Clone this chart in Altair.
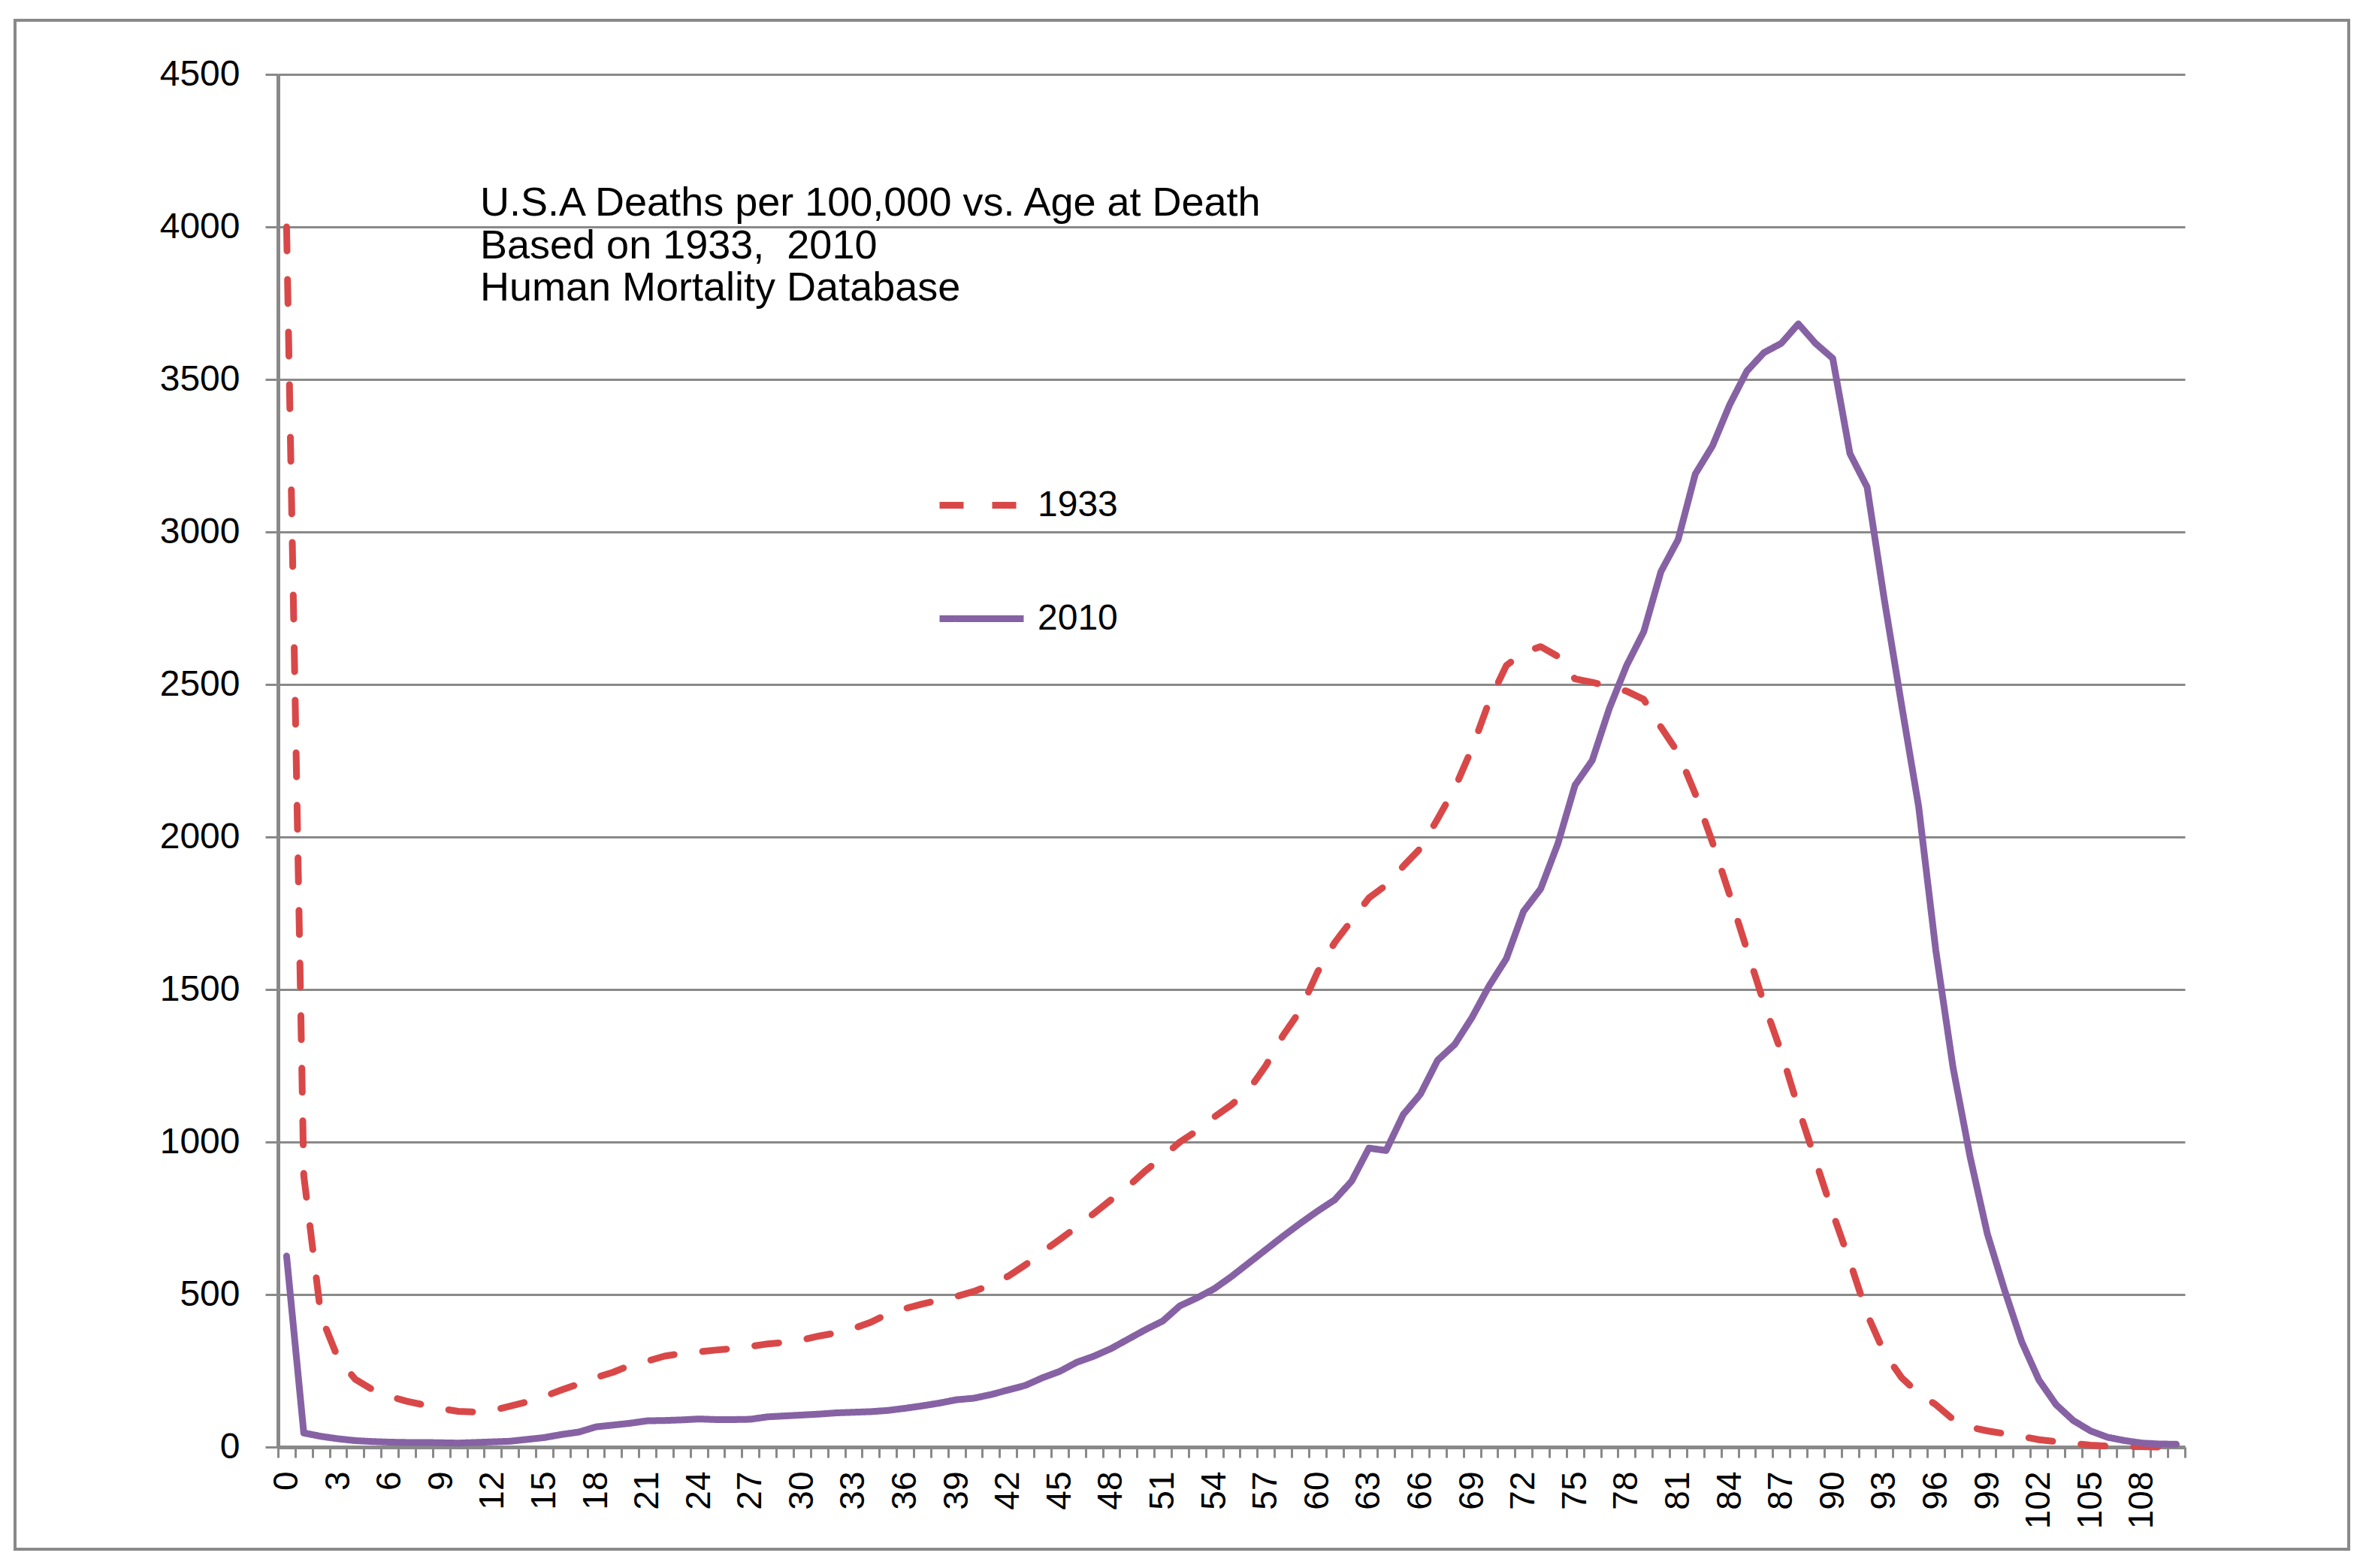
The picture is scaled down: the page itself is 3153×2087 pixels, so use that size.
import altair as alt
import pandas as pd

# ages 0..110, deaths per 100,000
ages = list(range(111))

deaths_1933 = [
    4000, 890, 430, 290, 222, 188, 166, 150, 138, 126,
    117, 115, 120, 134, 148, 166, 187, 207, 228, 245,
    268, 282, 298, 307, 312, 318, 323, 330, 338, 343,
    351, 364, 374, 389, 409, 437, 454, 469, 482, 494,
    510, 532, 560, 597, 640, 680, 722, 766, 811, 855,
    906, 952, 1000, 1037, 1082, 1122, 1170, 1250, 1349, 1431,
    1556, 1653, 1727, 1800, 1842, 1904, 1963, 2059, 2160, 2290,
    2444, 2562, 2606, 2624, 2592, 2518, 2507, 2493, 2478, 2451,
    2360, 2276, 2141, 1982, 1810, 1631, 1454, 1295, 1111, 939,
    767, 608, 436, 309, 228, 175, 139, 91, 65, 53,
    44, 35, 24, 18, 12, 6, 3, 1, 1, 0,
    0,
]

deaths_2010 = [
    626, 46, 35, 27, 21, 18, 16, 15, 15, 14,
    13, 15, 17, 19, 25, 31, 41, 49, 66, 72,
    78, 86, 87, 89, 92, 90, 90, 91, 99, 102,
    105, 108, 112, 114, 116, 120, 127, 135, 144, 155,
    160, 172, 187, 202, 227, 248, 278, 298, 323, 354,
    385, 413, 463, 489, 519, 559, 603, 647, 691, 733,
    773, 810, 872, 980, 972, 1090, 1157, 1268, 1320, 1408,
    1512, 1601, 1756, 1830, 1978, 2170, 2251, 2422, 2562, 2673,
    2870, 2975, 3190, 3282, 3417, 3527, 3588, 3618, 3682, 3618,
    3569, 3257, 3147, 2779, 2435, 2100, 1628, 1245, 950, 699,
    515, 345, 220, 139, 87, 53, 32, 21, 13, 10,
    9,
]

years = ['1933', '2010']
title_lines = [
    'U.S.A Deaths per 100,000 vs. Age at Death',
    'Based on 1933,\u00a0 2010',
    'Human Mortality Database',
]

df = pd.concat([
    pd.DataFrame({'age': ages, 'deaths': deaths_1933, 'year': years[0]}),
    pd.DataFrame({'age': ages, 'deaths': deaths_2010, 'year': years[1]}),
])

FONT = 'Liberation Sans'
GREY = '#898989'
W, H = 2538, 1827

lines = alt.Chart(df).mark_line(
    strokeWidth=9, strokeCap='round', strokeJoin='round'
).encode(
    x=alt.X('age:O', bandPosition=0.5,
            scale=alt.Scale(type='band', paddingInner=0, paddingOuter=0),
            axis=alt.Axis(title=None, tickBand='extent', grid=False,
                          labelExpr="datum.value % 3 == 0 ? datum.label : ''",
                          labelAngle=270, labelAlign='right', labelBaseline='middle',
                          labelOverlap=False, labelFontSize=46, labelPadding=18,
                          tickSize=14, tickWidth=3, tickColor=GREY,
                          domainColor=GREY, domainWidth=5)),
    y=alt.Y('deaths:Q',
            scale=alt.Scale(domain=[0, 4500], nice=False),
            axis=alt.Axis(title=None, values=list(range(0, 4501, 500)), format='d',
                          labelFontSize=48, labelPadding=34,
                          tickSize=17, tickWidth=3, tickColor=GREY,
                          gridColor=GREY, gridWidth=3,
                          domainColor=GREY, domainWidth=5)),
    color=alt.Color('year:N', title=None,
                    scale=alt.Scale(domain=years, range=['#D94848', '#8662A4'])),
    strokeDash=alt.StrokeDash('year:N', title=None,
                              scale=alt.Scale(domain=years, range=[[32, 38], [1, 0]])),
)

# outer chart-area frame
frame = alt.Chart(pd.DataFrame({'f': [0]})).mark_rect(
    filled=False, stroke=GREY, strokeWidth=4
).encode(
    x=alt.value(-350), x2=alt.value(2756),
    y=alt.value(-72), y2=alt.value(1963),
)

chart = alt.layer(frame, lines).properties(
    width=W, height=H,
    autosize=alt.AutoSizeParams(type='none'),
    padding={'left': 362, 'top': 91, 'right': 230, 'bottom': 145},
    title=alt.TitleParams(title_lines, anchor='start', frame='group', orient='top',
                          offset=0, dx=269, dy=386, baseline='top',
                          fontSize=54, fontWeight='normal', font=FONT,
                          lineHeight=56.5, color='black'),
).configure_view(
    stroke=None
).configure_axis(
    labelFont=FONT, labelColor='black'
).configure_legend(
    orient='none', legendX=876, legendY=513, padding=0,
    symbolType='stroke', symbolSize=12544, symbolStrokeWidth=9,
    labelFont=FONT, labelFontSize=48, labelColor='black', labelOffset=14,
    rowPadding=66,
)

chart.save('out.html', embed_options={'renderer': 'svg', 'actions': False})
